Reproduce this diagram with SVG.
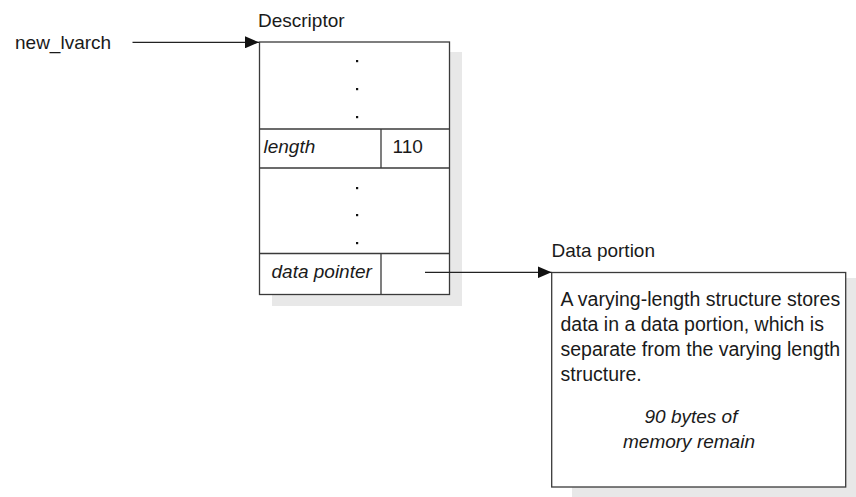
<svg xmlns="http://www.w3.org/2000/svg" width="856" height="497" viewBox="0 0 856 497">
<defs>
<style>
text{font-family:"Liberation Sans",Arial,sans-serif;font-size:19px;fill:#1a1a1a}
.it{font-style:italic}
.body{font-size:19.5px}
.box{fill:#fff;stroke:#3a3a3a;stroke-width:1.3}
.shadow{fill:#e8e8e8;stroke:none}
.div{stroke:#3a3a3a;stroke-width:1.3;fill:none}
.dot{fill:#111}
.conn{stroke:#222;stroke-width:1.3;fill:none}
</style>
<marker id="ah" viewBox="0 0 14 12" refX="14" refY="6" markerWidth="14" markerHeight="12" markerUnits="userSpaceOnUse" orient="auto">
<path d="M0,0 L14,6 L0,12 z" fill="#111"/>
</marker>
</defs>
<rect width="856" height="497" fill="#fff"/>
<g id="label-new_lvarch">
<text x="15" y="49">new_lvarch</text>
</g>
<g id="descriptor">
<rect class="shadow" x="272" y="52" width="190" height="254"/>
<rect class="box" x="259.5" y="42" width="190" height="252.5"/>
<line class="div" x1="259.5" y1="129" x2="449.5" y2="129"/>
<line class="div" x1="259.5" y1="168" x2="449.5" y2="168"/>
<line class="div" x1="259.5" y1="253.5" x2="449.5" y2="253.5"/>
<line class="div" x1="381" y1="129" x2="381" y2="168"/>
<line class="div" x1="381" y1="253.5" x2="381" y2="294.5"/>
<rect class="dot" x="356" y="60" width="2.2" height="2.2"/>
<rect class="dot" x="356" y="88" width="2.2" height="2.2"/>
<rect class="dot" x="356" y="116" width="2.2" height="2.2"/>
<rect class="dot" x="356" y="187" width="2.2" height="2.2"/>
<rect class="dot" x="356" y="214" width="2.2" height="2.2"/>
<rect class="dot" x="356" y="242" width="2.2" height="2.2"/>
<text x="258" y="27">Descriptor</text>
<text class="it" x="263.5" y="153">length</text>
<text x="392.5" y="153">110</text>
<text class="it" x="271.5" y="278">data pointer</text>
</g>
<g id="data-portion">
<rect class="shadow" x="572" y="278" width="284" height="219"/>
<rect class="box" x="551.7" y="272.5" width="294" height="214.5"/>
<text x="551.5" y="257">Data portion</text>
<text class="body" x="560.5" y="306">A varying-length structure stores</text>
<text class="body" x="560.5" y="331">data in a data portion, which is</text>
<text class="body" x="560.5" y="356">separate from the varying length</text>
<text class="body" x="560.5" y="381">structure.</text>
<text class="it" x="691" y="422.5" text-anchor="middle">90 bytes of</text>
<text class="it" x="689" y="448" text-anchor="middle">memory remain</text>
</g>
<g id="connectors">
<line class="conn" x1="132.5" y1="42.3" x2="259" y2="42.3" marker-end="url(#ah)"/>
<line class="conn" x1="425" y1="272.3" x2="551.5" y2="272.3" stroke="#444" marker-end="url(#ah)"/>
</g>
</svg>
